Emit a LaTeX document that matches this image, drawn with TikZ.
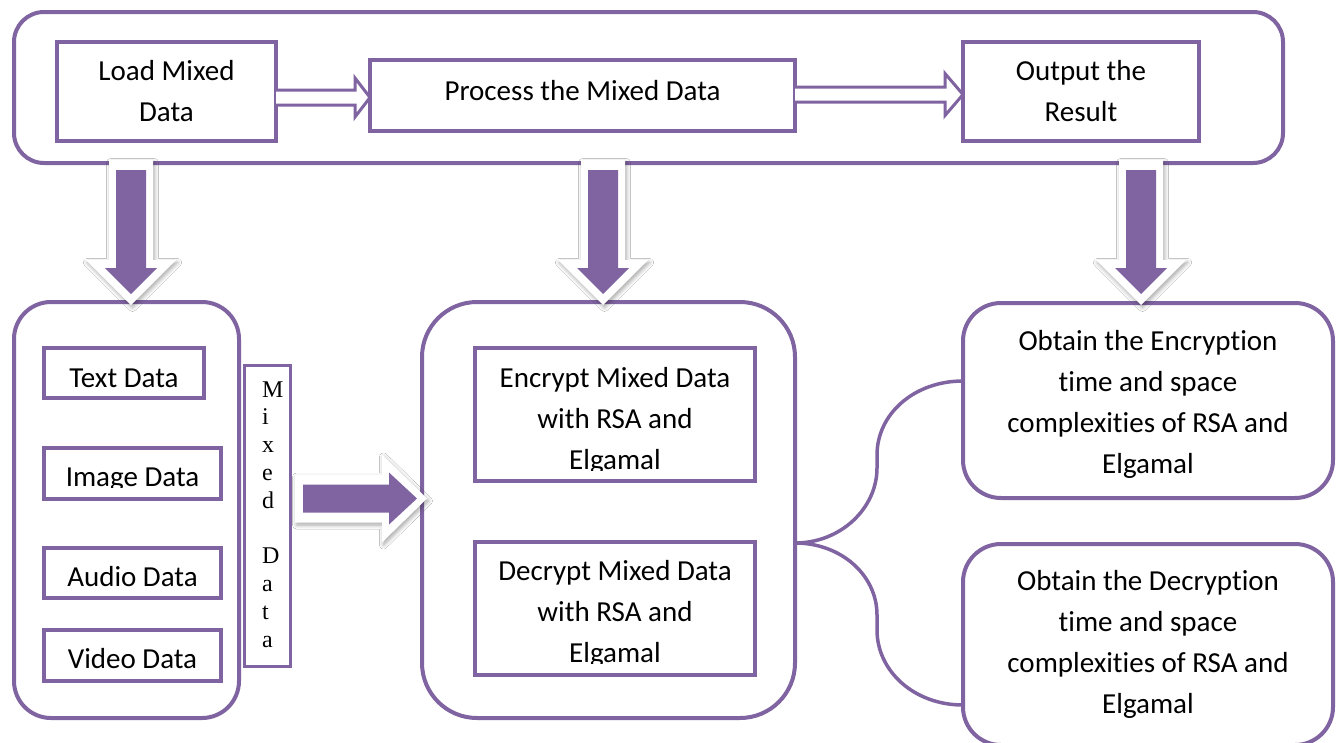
\documentclass[tikz,border=0pt]{standalone}
\usepackage{fontspec}
\setmainfont{Carlito}[Ligatures=NoCommon]
\newfontfamily\letterfont{Liberation Serif}
\usetikzlibrary{shadows.blur}
\definecolor{plum}{RGB}{128,100,162}

\begin{document}
\begin{tikzpicture}[x=1pt,y=-1pt,
  every node/.style={inner sep=0pt, outer sep=0pt},
  panel/.style={draw=plum, line width=4pt, fill=white, rounded corners=#1},
  panel/.default=32pt,
  stepbox/.style={draw=plum, line width=4pt, fill=white},
  lbl/.style={font=\fontsize{29}{41}\selectfont, text width=400pt, align=flush center, anchor=base},
  hollow/.style={draw=plum, line width=3pt, fill=white, line join=miter},
  halo/.style={fill=white, blur shadow={shadow xshift=1.5pt, shadow yshift=-2.5pt,
      shadow blur steps=6, shadow opacity=35, shadow blur radius=4pt}},
  core/.style={fill=plum},
  downblock/.pic={
    \fill[halo] (-22,160) -- (22,160) -- (22,260) -- (45,260) -- (0,305)
                -- (-45,260) -- (-22,260) -- cycle;
    \fill[core] (-15,170) -- (15,170) -- (15,268) -- (26,268) -- (0,294)
                -- (-26,268) -- (-15,268) -- cycle;
  }]

\fill[white] (0,0) rectangle (1343,742);
\useasboundingbox (0,0) rectangle (1343,742);

% ---- top row: overall workflow ----
\node[panel=30pt, minimum width=1269pt, minimum height=151pt] (top) at (648.5,87.5) {};
\node[stepbox, minimum width=219pt, minimum height=99pt] (load) at (166.5,91.5) {};
\node[lbl] (loadtxt) at (166.5,80) {Load Mixed\\Data};
\node[stepbox, minimum width=425pt, minimum height=71pt] (proc) at (582.5,95) {};
\node[lbl] (proctxt) at (582.5,100) {Process the Mixed Data};
\node[stepbox, minimum width=236pt, minimum height=99pt] (out) at (1081,91.5) {};
\node[lbl] (outtxt) at (1081,80) {Output the\\Result};

% hollow arrows between the steps
\draw[hollow] (load.east |- 0,90) -- (355,90) -- (355,78) -- (proc.west |- 0,97.5)
  -- (355,117) -- (355,105) -- (load.east |- 0,105);
\draw[hollow] (proc.east |- 0,87) -- (945,87) -- (945,73.5) -- (out.west |- 0,94.5)
  -- (945,115.5) -- (945,102) -- (proc.east |- 0,102);

% ---- left panel: data sources ----
\node[panel=37pt, minimum width=225pt, minimum height=416pt] (src) at (126.5,510) {};
\node[stepbox, minimum width=160pt, minimum height=50pt] (text) at (124,373) {};
\node[lbl] (texttxt) at (124,387) {Text Data};
\node[stepbox, minimum width=177pt, minimum height=51pt] (image) at (132.5,473.5) {};
\begin{scope}
  \clip (46,450) rectangle (219,487.5);
  \node[lbl] (imagetxt) at (132.5,486) {Image Data};
\end{scope}
\node[stepbox, minimum width=177pt, minimum height=50pt] (audio) at (132.5,573) {};
\node[lbl] (audiotxt) at (132.5,586) {Audio Data};
\node[stepbox, minimum width=177pt, minimum height=51pt] (video) at (132.5,655.5) {};
\node[lbl] (videotxt) at (132.5,668) {Video Data};

\node[draw=plum, line width=3pt, fill=white, minimum width=46pt, minimum height=301pt] (mix) at (267,515.5) {};
\node[font=\letterfont\fontsize{24}{27.8}\selectfont, text width=30pt, align=flush left, anchor=base west]
  (mixtxt) at (262,397) {M\\i\\x\\e\\d\\\mbox{}\\D\\a\\t\\a};

% ---- middle panel: encryption / decryption ----
\node[panel=55pt, minimum width=373pt, minimum height=416pt] (mid) at (608.5,510) {};
\node[stepbox, minimum width=280pt, minimum height=133pt] (enc) at (615,414.5) {};
\begin{scope}
  \clip (477,350) rectangle (753,470);
  \node[lbl] (enctxt) at (615,387) {Encrypt Mixed Data\\with RSA and\\Elgamal};
\end{scope}
\node[stepbox, minimum width=280pt, minimum height=133pt] (dec) at (615,608.5) {};
\begin{scope}
  \clip (477,544) rectangle (753,663);
  \node[lbl] (dectxt) at (615,580) {Decrypt Mixed Data\\with RSA and\\Elgamal};
\end{scope}

% ---- right panels: results ----
\node[panel=38pt, minimum width=370pt, minimum height=195pt] (rtop) at (1148,400.5) {};
\node[lbl] (rtoptxt) at (1148,350) {Obtain the Encryption\\time and space\\complexities of RSA and\\Elgamal};
\node[panel=38pt, minimum width=370pt, minimum height=201pt] (rbot) at (1148,644.5) {};
\node[lbl] (rbottxt) at (1148,590) {Obtain the Decryption\\time and space\\complexities of RSA and\\Elgamal};

% brace joining the middle panel to both result panels
\coordinate (fork) at (mid.east |- 0,543);
\draw[plum, line width=3.5pt, line join=round]
  (rtop.west |- 0,381) .. controls (914,381) and (877,414) .. (877,455) -- (877,468)
  .. controls (877,508) and (841,543) .. (fork)
  .. controls (841,543) and (877,575) .. (877,615) -- (877,630)
  .. controls (877,671) and (914,705) .. (rbot.west |- 0,705);

% ---- block arrows ----
\fill[halo] (295,474.5) -- (382,474.5) -- (382,454.5) -- (427,498.5) -- (382,542.5)
  -- (382,522.5) -- (295,522.5) -- cycle;
\fill[core] (303,484.5) -- (389,484.5) -- (389,472.5) -- (417,498.5) -- (389,524.5)
  -- (389,512.5) -- (303,512.5) -- cycle;

\pic (downA) at (131,0) {downblock};
\pic (downB) at (603,0) {downblock};
\pic (downC) at (1141,0) {downblock};
\end{tikzpicture}
\end{document}
